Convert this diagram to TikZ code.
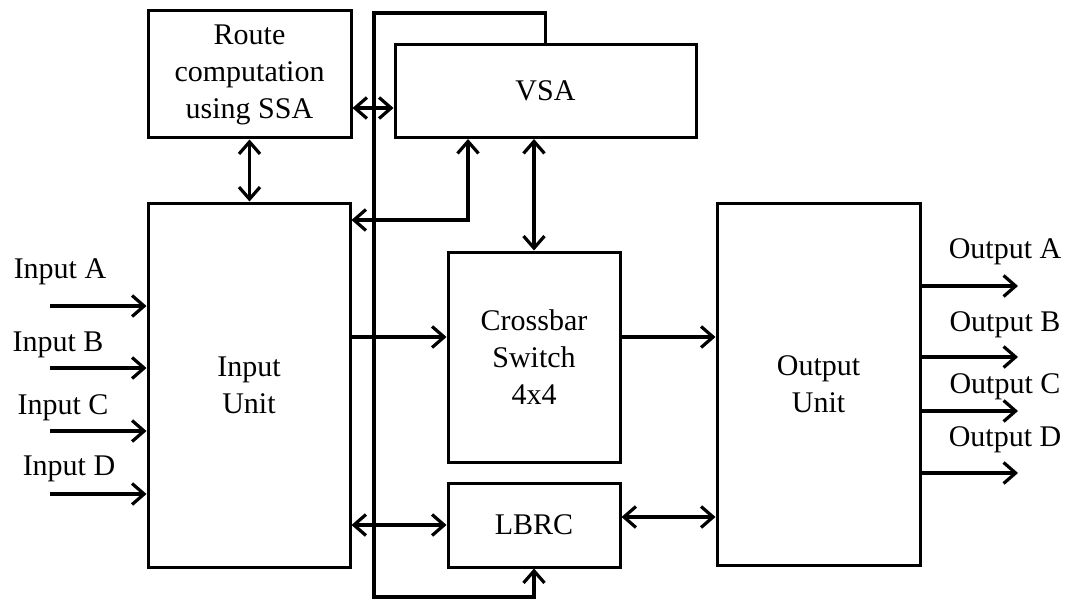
\documentclass[tikz,border=0pt]{standalone}
\usepackage{fontspec}
\setmainfont{Liberation Serif}
\usetikzlibrary{arrows.meta,calc}
\newcommand{\lw}{3.4pt}
\tikzset{block/.style={draw,line width=3pt,inner sep=0pt,align=center,
		font=\fontsize{30}{37}\selectfont},
	label text/.style={inner sep=0pt,font=\fontsize{30}{34}\selectfont},
	wire/.style={line width=\lw},
	onearrow/.style={wire,-{Straight Barb[length=12pt,width=21pt,line width=3.2pt]}},
	twoarrow/.style={wire,{Straight Barb[length=12pt,width=21pt,line width=3.2pt]}-{Straight Barb[length=12pt,width=21pt,line width=3.2pt]}}}

\begin{document}
\begin{tikzpicture}[x=1pt,y=-1pt]

		\useasboundingbox (0,0) rectangle (1068,599);

		\coordinate (R) at (249.5,74.5);
		\coordinate (V) at (545.5,91);
		\coordinate (I) at (249,385);
		\coordinate (X) at (534,357);
		\coordinate (L) at (534,525);
		\coordinate (O) at (818.5,384);

		\node [block,minimum width=203pt,minimum height=127pt] (route) at (R)
			{Route\\computation\\using SSA};
		\node [block,minimum width=301pt,minimum height=93pt] (vsa) at (V)
			{VSA};
		\node [block,minimum width=202pt,minimum height=364pt] (input) at (I)
			{Input\\Unit};
		\node [block,minimum width=172pt,minimum height=210pt] (xbar) at (X)
			{Crossbar\\Switch\\4x4};
		\node [block,minimum width=172pt,minimum height=84pt] (lbrc) at (L)
			{LBRC};
		\node [block,minimum width=203pt,minimum height=362pt] (output) at (O)
			{Output\\Unit};

		% loop round the left of VSA and LBRC
		\coordinate (loopTop) at (374,13);
		\coordinate (loopBot) at (374,597);
		\draw [onearrow] (vsa.north) |- (loopTop) -- (loopBot) -| (lbrc.south);

		\draw [twoarrow] (route.east |- 0,108) -- (vsa.west |- 0,108);
		\draw [twoarrow] (route.south) -- (route.south |- input.north);
		\coordinate (vsaTap) at (468,220);
		\draw [twoarrow] (vsaTap |- vsa.south) -- (vsaTap) -- (vsaTap -| input.east);
		\draw [twoarrow] (vsa.south -| xbar.north) -- (xbar.north);
		\draw [onearrow] (input.east |- 0,337) -- (xbar.west |- 0,337);
		\draw [onearrow] (xbar.east |- 0,337) -- (output.west |- 0,337);
		\draw [twoarrow] (input.east |- 0,525) -- (lbrc.west |- 0,525);
		\draw [twoarrow] (lbrc.east |- 0,517) -- (output.west |- 0,517);

		% inputs
		\node [label text] (labA) at (60,272) {Input A};
		\node [label text] (labB) at (58,345) {Input B};
		\node [label text] (labC) at (63,408) {Input C};
		\node [label text] (labD) at (69,469) {Input D};
		\coordinate (inA) at (50,306);
		\coordinate (inB) at (50,368);
		\coordinate (inC) at (50,431);
		\coordinate (inD) at (50,494);
		\draw [onearrow] (inA) -- (inA -| input.west);
		\draw [onearrow] (inB) -- (inB -| input.west);
		\draw [onearrow] (inC) -- (inC -| input.west);
		\draw [onearrow] (inD) -- (inD -| input.west);

		% outputs
		\node [label text] (outLabA) at (1005,252) {Output A};
		\node [label text] (outLabB) at (1005,325) {Output B};
		\node [label text] (outLabC) at (1005,387) {Output C};
		\node [label text] (outLabD) at (1005,440) {Output D};
		\coordinate (outA) at (1018,286);
		\coordinate (outB) at (1018,357);
		\coordinate (outC) at (1018,411);
		\coordinate (outD) at (1018,473);
		\draw [onearrow] (outA -| output.east) -- (outA);
		\draw [onearrow] (outB -| output.east) -- (outB);
		\draw [onearrow] (outC -| output.east) -- (outC);
		\draw [onearrow] (outD -| output.east) -- (outD);

	\end{tikzpicture}
\end{document}
